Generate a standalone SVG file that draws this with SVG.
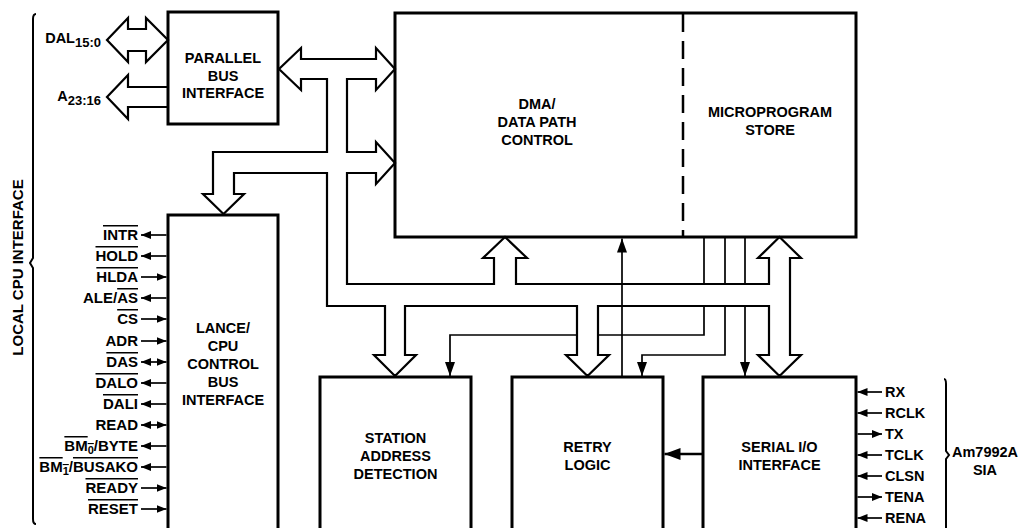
<svg xmlns="http://www.w3.org/2000/svg" width="1021" height="528" viewBox="0 0 1021 528">
<style>
.t{font-family:"Liberation Sans",Arial,sans-serif;font-weight:bold;font-size:14.5px;fill:#000}
.s{font-size:15px}
.c{text-anchor:middle}
.e{text-anchor:end}
.o{text-decoration:overline}
.box{fill:none;stroke:#000;stroke-width:3}
.bus{fill:#fff;stroke:#000;stroke-width:2.2;stroke-linejoin:miter}
.sig{fill:none;stroke:#000;stroke-width:1.7}
.ls{marker-end:url(#a1)}
.lb{marker-start:url(#a1);marker-end:url(#a1)}
.li{marker-end:url(#a2)}
</style>
<defs>
<marker id="a1" viewBox="0 0 10 8" refX="10" refY="4" markerWidth="10" markerHeight="8" markerUnits="userSpaceOnUse" orient="auto-start-reverse"><path d="M0,0 L10,4 L0,8 Z"/></marker>
<marker id="a2" viewBox="0 0 14 10" refX="14" refY="5" markerWidth="14" markerHeight="10" markerUnits="userSpaceOnUse" orient="auto-start-reverse"><path d="M0,0 L14,5 L0,10 Z"/></marker>
<marker id="a3" viewBox="0 0 16 12" refX="16" refY="6" markerWidth="16" markerHeight="12" markerUnits="userSpaceOnUse" orient="auto"><path d="M0,0 L16,6 L0,12 Z"/></marker>
</defs>
<rect width="1021" height="528" fill="#fff"/>

<g id="connectors">
  <path class="sig li" d="M704,306 L704,335 L450,335 L450,376"/>
  <path class="bus" d="M327,79 L301,79 L301,90 L279,69 L301,48 L301,59 L376,59 L376,48 L395,69 L376,90 L376,79 L347,79 L347,152 L376,152 L376,142 L395,163 L376,184 L376,173 L347,173 L347,284 L494,284 L494,258 L483,258 L505,237 L527,258 L516,258 L516,284 L769,284 L769,258 L758,258 L779.5,237 L801,258 L790,258 L790,355 L801,355 L779.5,376 L758,355 L769,355 L769,306 L598,306 L598,355 L609,355 L587.5,376 L566,355 L577,355 L577,306 L405,306 L405,355 L416,355 L395,376 L374,355 L385,355 L385,306 L327,306 L327,173 L234,173 L234,194 L244,194 L223.5,214 L203,194 L213,194 L213,152 L327,152 Z"/>
  <path class="bus" d="M168,40 L146,18 L146,29 L128,29 L128,18 L107,40 L128,62 L128,51 L146,51 L146,62 Z"/>
  <path class="bus" d="M168,87 L128,87 L128,75 L107,97 L128,119 L128,107 L168,107"/>
  <path class="sig" d="M704,238 L704,284 M725,238 L725,284 M745,238 L745,284"/>
  <path class="sig li" d="M725,306 L725,355 L642,355 L642,376"/>
  <path class="sig li" d="M745,306 L745,376"/>
  <path class="sig li" d="M622,376 L622,238.5"/>
  <path fill="none" stroke="#000" stroke-width="2.5" marker-end="url(#a3)" d="M703,454 L664.5,454"/>
  <path class="sig ls" d="M166.5,235 L141,235"/>
  <path class="sig ls" d="M166.5,256 L141,256"/>
  <path class="sig ls" d="M141,277 L166.5,277"/>
  <path class="sig ls" d="M166.5,298 L141,298"/>
  <path class="sig ls" d="M141,319 L166.5,319"/>
  <path class="sig ls" d="M141,341 L166.5,341"/>
  <path class="sig lb" d="M141,362 L166.5,362"/>
  <path class="sig ls" d="M166.5,383 L141,383"/>
  <path class="sig ls" d="M166.5,404 L141,404"/>
  <path class="sig lb" d="M141,425 L166.5,425"/>
  <path class="sig ls" d="M166.5,446 L141,446"/>
  <path class="sig ls" d="M166.5,467 L141,467"/>
  <path class="sig ls" d="M141,488 L166.5,488"/>
  <path class="sig ls" d="M141,509 L166.5,509"/>
  <path class="sig ls" d="M882,392 L857.5,392"/>
  <path class="sig ls" d="M882,413 L857.5,413"/>
  <path class="sig ls" d="M857.5,434 L882,434"/>
  <path class="sig ls" d="M882,455 L857.5,455"/>
  <path class="sig ls" d="M882,476 L857.5,476"/>
  <path class="sig ls" d="M857.5,497 L882,497"/>
  <path class="sig ls" d="M882,518 L857.5,518"/>
</g>

<g id="parallel-bus-interface">
  <rect class="box" x="168" y="12" width="110" height="112"/>
  <text class="t c" x="223" y="63">PARALLEL</text>
  <text class="t c" x="223" y="80.5">BUS</text>
  <text class="t c" x="223" y="98">INTERFACE</text>
</g>

<g id="dma-microprogram">
  <rect class="box" x="395" y="13" width="461" height="224"/>
  <line x1="683" y1="14" x2="683" y2="236" stroke="#000" stroke-width="2.5" stroke-dasharray="18 9"/>
  <text class="t c" x="537" y="109">DMA/</text>
  <text class="t c" x="537" y="127">DATA PATH</text>
  <text class="t c" x="537" y="145">CONTROL</text>
  <text class="t c" x="770" y="117">MICROPROGRAM</text>
  <text class="t c" x="770" y="135">STORE</text>
</g>

<g id="lance-cpu-control">
  <rect class="box" x="168" y="215" width="110" height="330"/>
  <text class="t c" x="223" y="333">LANCE/</text>
  <text class="t c" x="223" y="351">CPU</text>
  <text class="t c" x="223" y="369">CONTROL</text>
  <text class="t c" x="223" y="387">BUS</text>
  <text class="t c" x="223" y="405">INTERFACE</text>
</g>

<g id="station-address-detection">
  <rect class="box" x="320" y="377" width="151" height="170"/>
  <text class="t c" x="395.5" y="443">STATION</text>
  <text class="t c" x="395.5" y="461">ADDRESS</text>
  <text class="t c" x="395.5" y="479">DETECTION</text>
</g>

<g id="retry-logic">
  <rect class="box" x="512" y="377" width="151" height="170"/>
  <text class="t c" x="587.5" y="452">RETRY</text>
  <text class="t c" x="587.5" y="470">LOGIC</text>
</g>

<g id="serial-io-interface">
  <rect class="box" x="703" y="377" width="153" height="170"/>
  <text class="t c" x="779.5" y="452">SERIAL I/O</text>
  <text class="t c" x="779.5" y="470">INTERFACE</text>
</g>

<g id="local-cpu-interface">
  <path fill="none" stroke="#000" stroke-width="2" d="M36,14 Q33,14 33,19 L33,258 L30,263 L33,268 L33,519 Q33,524 36,524"/>
  <text class="t c s" transform="translate(23,267.5) rotate(-90)">LOCAL CPU INTERFACE</text>
  <text class="t e" x="101" y="43">DAL<tspan style="font-size:13px" dy="4">15:0</tspan></text>
  <text class="t e" x="101" y="101">A<tspan style="font-size:13px" dy="4">23:16</tspan></text>
  <text class="t e s" x="138" y="240"><tspan class="o">INTR</tspan></text>
  <text class="t e s" x="138" y="261"><tspan class="o">HOLD</tspan></text>
  <text class="t e s" x="138" y="282"><tspan class="o">HLDA</tspan></text>
  <text class="t e s" x="138" y="303">ALE/<tspan class="o">AS</tspan></text>
  <text class="t e s" x="138" y="324"><tspan class="o">CS</tspan></text>
  <text class="t e s" x="138" y="346">ADR</text>
  <text class="t e s" x="138" y="367"><tspan class="o">DAS</tspan></text>
  <text class="t e s" x="138" y="388"><tspan class="o">DALO</tspan></text>
  <text class="t e s" x="138" y="409"><tspan class="o">DALI</tspan></text>
  <text class="t e s" x="138" y="430">READ</text>
  <text class="t e s" x="138" y="451"><tspan class="o">BM<tspan style="font-size:11px" dy="3">0</tspan></tspan><tspan dy="-3">/BYTE</tspan></text>
  <text class="t e s" x="138" y="472"><tspan class="o">BM<tspan style="font-size:11px" dy="3">1</tspan></tspan><tspan dy="-3">/</tspan><tspan class="o">BUSAKO</tspan></text>
  <text class="t e s" x="138" y="493"><tspan class="o">READY</tspan></text>
  <text class="t e s" x="138" y="514"><tspan class="o">RESET</tspan></text>
</g>

<g id="am7992a-sia">
  <path fill="none" stroke="#000" stroke-width="2" d="M944,379 Q946,379 946,384 L946,451 L949,455 L946,459 L946,528"/>
  <text class="t" x="885" y="397">RX</text>
  <text class="t" x="885" y="418">RCLK</text>
  <text class="t" x="885" y="439">TX</text>
  <text class="t" x="885" y="460">TCLK</text>
  <text class="t" x="885" y="481">CLSN</text>
  <text class="t" x="885" y="502">TENA</text>
  <text class="t" x="885" y="523">RENA</text>
  <text class="t c" x="985" y="457">Am7992A</text>
  <text class="t c" x="985" y="475">SIA</text>
</g>
</svg>
